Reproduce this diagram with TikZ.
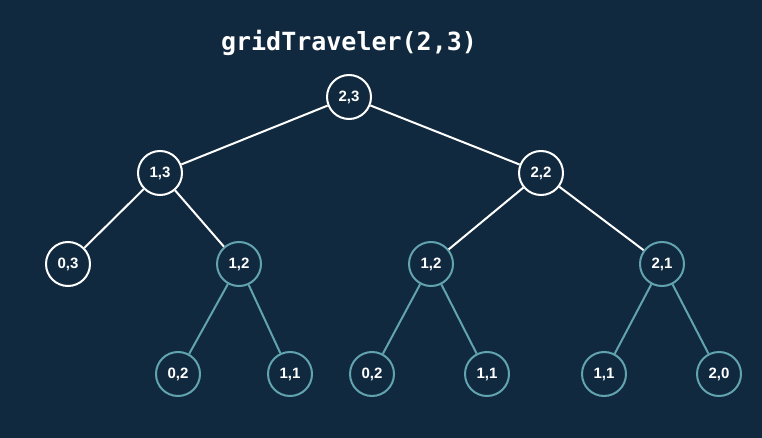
\documentclass[tikz,border=0pt]{standalone}
\usepackage{fontspec}
\setmainfont{Liberation Sans}
\newfontfamily\titlefont{DejaVu Sans Mono}
\definecolor{bg}{RGB}{17,41,62}
\definecolor{teal}{RGB}{98,163,176}
\begin{document}
\begin{tikzpicture}[x=1pt,y=-1pt,
  nd/.style={circle,draw=white,line width=2pt,fill=bg,minimum size=44pt,inner sep=0pt,text=white,font=\bfseries\fontsize{15}{15}\selectfont},
  tnd/.style={nd,draw=teal},
  wedge/.style={draw=white,line width=2pt},
  tedge/.style={draw=teal,line width=2pt}]
\fill[bg] (0,0) rectangle (762,438);
\useasboundingbox (0,0) rectangle (762,438);
\node[text=white,font=\titlefont\bfseries\fontsize{25}{25}\selectfont] (title) at (349,43) {gridTraveler(2,3)};
\node[nd] (a) at (349,97) {2,3};
\node[nd] (b) at (160,173) {1,3};
\node[nd] (c) at (541,173) {2,2};
\node[nd] (d) at (68,264) {0,3};
\node[tnd] (e) at (239,264) {1,2};
\node[tnd] (f) at (431,264) {1,2};
\node[tnd] (g) at (662,264) {2,1};
\node[tnd] (h) at (178,374) {0,2};
\node[tnd] (i) at (290,374) {1,1};
\node[tnd] (j) at (372,374) {0,2};
\node[tnd] (k) at (487,374) {1,1};
\node[tnd] (l) at (604,374) {1,1};
\node[tnd] (m) at (719,374) {2,0};
\draw[wedge] (a) -- (b);
\draw[wedge] (a) -- (c);
\draw[wedge] (b) -- (d);
\draw[wedge] (b) -- (e);
\draw[wedge] (c) -- (f);
\draw[wedge] (c) -- (g);
\draw[tedge] (e) -- (h);
\draw[tedge] (e) -- (i);
\draw[tedge] (f) -- (j);
\draw[tedge] (f) -- (k);
\draw[tedge] (g) -- (l);
\draw[tedge] (g) -- (m);
\end{tikzpicture}
\end{document}
